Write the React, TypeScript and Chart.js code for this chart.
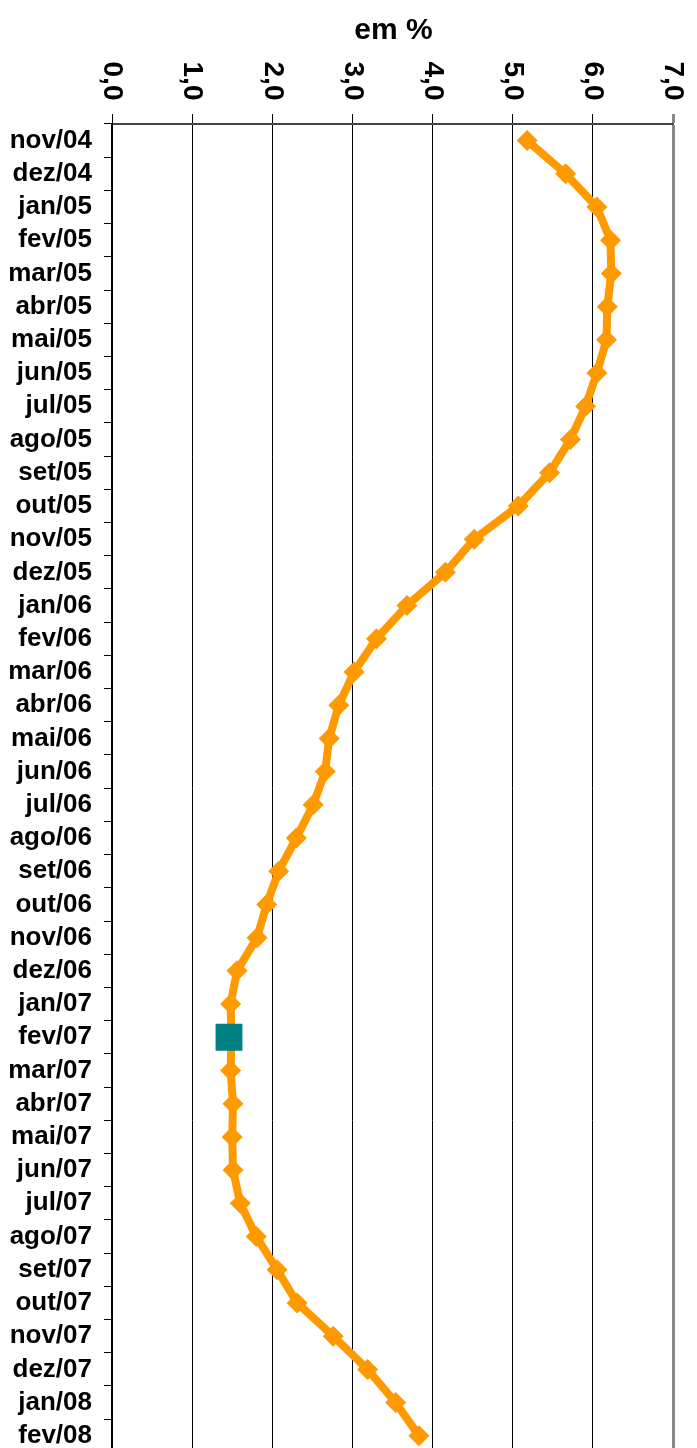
import React, { useEffect, useRef } from "react";
import { Chart, registerables } from "chart.js";

Chart.register(...registerables);

const categories = [
  "nov/04", "dez/04",
  "jan/05", "fev/05", "mar/05", "abr/05", "mai/05", "jun/05", "jul/05", "ago/05", "set/05", "out/05", "nov/05", "dez/05",
  "jan/06", "fev/06", "mar/06", "abr/06", "mai/06", "jun/06", "jul/06", "ago/06", "set/06", "out/06", "nov/06", "dez/06",
  "jan/07", "fev/07", "mar/07", "abr/07", "mai/07", "jun/07", "jul/07", "ago/07", "set/07", "out/07", "nov/07", "dez/07",
  "jan/08", "fev/08",
];

const seriesValues = [
  5.18, 5.66,
  6.05, 6.22, 6.23, 6.18, 6.17, 6.05, 5.91, 5.72, 5.46, 5.07, 4.52, 4.16,
  3.68, 3.30, 3.02, 2.83, 2.71, 2.66, 2.51, 2.30, 2.08, 1.93, 1.81, 1.56,
  1.48, 1.49, 1.48, 1.51, 1.50, 1.51, 1.60, 1.80, 2.06, 2.31, 2.76, 3.19,
  3.54, 3.83,
];

const highlightCategory = "fev/07";
const highlightValue = 1.46;

const xTickValues = [0, 1, 2, 3, 4, 5, 6, 7];
const xTickLabels = ["0,0", "1,0", "2,0", "3,0", "4,0", "5,0", "6,0", "7,0"];
const axisTitle = "em %";

const FONT = "'Liberation Sans', Arial, Helvetica, sans-serif";

export default function App() {
  const ref = useRef<HTMLCanvasElement | null>(null);

  useEffect(() => {
    const canvas = ref.current;
    if (!canvas) return;

    const highlightData = categories.map((c) => (c === highlightCategory ? highlightValue : null));

    const labelsPlugin = {
      id: "customLabels",
      afterDraw(chart: any) {
        const ctx = chart.ctx as CanvasRenderingContext2D;
        const xs = chart.scales.x;
        const area = chart.chartArea;
        ctx.save();
        ctx.fillStyle = "#000";
        // title
        ctx.font = `bold 30px ${FONT}`;
        ctx.textAlign = "center";
        ctx.textBaseline = "alphabetic";
        ctx.fillText(axisTitle, (area.left + area.right) / 2 + 1, 39);
        // rotated tick labels (reading top to bottom)
        ctx.font = `bold 28px ${FONT}`;
        xTickValues.forEach((v, i) => {
          const px = xs.getPixelForValue(v);
          ctx.save();
          ctx.translate(px, 81);
          ctx.rotate(Math.PI / 2);
          ctx.textAlign = "center";
          ctx.textBaseline = "middle";
          ctx.fillText(xTickLabels[i], 0, 0);
          ctx.restore();
        });
        ctx.restore();
      },
    };

    const chart = new Chart(canvas, {
      type: "line",
      data: {
        labels: categories,
        datasets: [
          {
            label: "destaque",
            data: highlightData as any,
            showLine: false,
            pointStyle: "rect",
            pointRadius: 19,
            pointHoverRadius: 19,
            pointBackgroundColor: "#008080",
            pointBorderWidth: 0,
            borderColor: "#008080",
            order: 0,
          },
          {
            label: "série",
            data: seriesValues,
            borderColor: "#FF9900",
            backgroundColor: "#FF9900",
            borderWidth: 8,
            tension: 0,
            pointStyle: "rectRot",
            pointRadius: 10.5,
            pointHoverRadius: 10.5,
            pointBackgroundColor: "#FF9900",
            pointBorderColor: "#FF9900",
            pointBorderWidth: 0,
            order: 1,
          },
        ],
      },
      options: {
        indexAxis: "y",
        responsive: false,
        animation: false,
        devicePixelRatio: window.devicePixelRatio || 1,
        layout: { padding: { top: 0, right: 24, bottom: 4, left: 0 } },
        plugins: {
          legend: { display: false },
          tooltip: { enabled: false },
          title: { display: false },
        },
        scales: {
          x: {
            type: "linear",
            position: "top",
            min: 0,
            max: 7,
            afterFit(scale: any) {
              scale.height = 124;
            },
            ticks: { display: false, stepSize: 1 },
            grid: {
              display: true,
              drawTicks: true,
              tickLength: 10,
              color: (c: any) => (c.tick && c.tick.value === 7 ? "#888888" : "#000000"),
              lineWidth: (c: any) => (c.tick && c.tick.value === 7 ? 3 : 1),
            },
            border: { display: true, color: "#444444", width: 2 },
          },
          y: {
            type: "category",
            offset: true,
            afterFit(scale: any) {
              scale.width = 112;
            },
            ticks: {
              color: "#000",
              font: { family: FONT, size: 26, weight: "bold" },
              padding: 12,
              autoSkip: false,
            },
            grid: {
              offset: true,
              drawOnChartArea: false,
              drawTicks: true,
              tickLength: 8,
              color: "#000",
              lineWidth: 1,
            },
            border: { display: true, color: "#000", width: 2 },
          },
        },
      },
      plugins: [labelsPlugin],
    } as any);

    return () => chart.destroy();
  }, []);

  return (
    <div
      style={{
        position: "absolute",
        top: 0,
        left: 0,
        width: 697,
        height: 1448,
        overflow: "hidden",
        background: "#fff",
      }}
    >
      <canvas ref={ref} width={697} height={1480} style={{ width: 697, height: 1480, display: "block" }} />
    </div>
  );
}
